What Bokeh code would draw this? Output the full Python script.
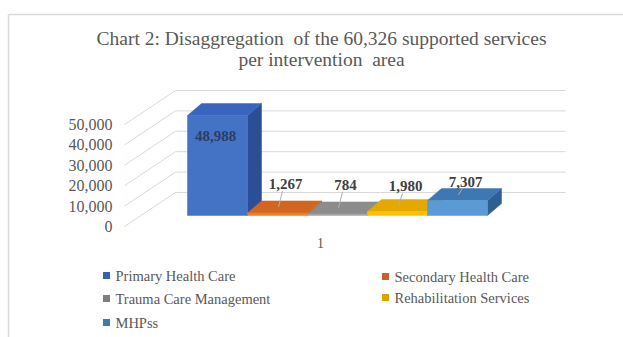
from bokeh.plotting import figure
from bokeh.models import Range1d
from bokeh.core.properties import value
from bokeh.embed import file_html
from bokeh.resources import INLINE

# ---- data ----
title_lines = ["Chart 2: Disaggregation\u00a0 of the 60,326 supported services",
               "per intervention\u00a0 area"]
categories = ["Primary Health Care", "Secondary Health Care",
              "Trauma Care Management", "Rehabilitation Services", "MHPss"]
services = [48988, 1267, 784, 1980, 7307]
value_labels = ["48,988", "1,267", "784", "1,980", "7,307"]
y_ticks = [0, 10000, 20000, 30000, 40000, 50000]
y_tick_labels = ["0", "10,000", "20,000", "30,000", "40,000", "50,000"]
category_label = "1"

# ---- style ----
front_colors = ["#4472C4", "#ED7D31", "#A5A5A5", "#FFC000", "#5B9BD5"]
top_colors = ["#3a64bd", "#d2661f", "#8c8c8c", "#e3a900", "#3f77b3"]
side_colors = ["#2c4e96", "#b0541a", "#747474", "#c18f00", "#2d5e94"]
legend_colors = ["#3560b8", "#c9602a", "#7f7f7f", "#d9a400", "#3f7ab8"]
label_offsets_px = [-20, 17, 17, 13, 7]
FONT = value("Liberation Serif")
TXT = "#595959"

W, H = 623, 337
K = 2.04 / 1000          # px per unit of value
BASE = 215               # pixel row of the bars' front baseline


def vy(py):
    return (BASE - py) / K


def dv(px):
    return px / K


p = figure(width=W, height=H, x_range=Range1d(0, W), y_range=Range1d(vy(H), vy(0)),
           output_backend="svg", toolbar_location=None,
           x_axis_type=None, y_axis_type=None, min_border=0)
p.outline_line_color = None
p.background_fill_color = "white"
p.border_fill_color = "white"

# card border
p.segment(x0=[8, 8], y0=[vy(14), vy(14)], x1=[W, 8], y1=[vy(14), vy(H)],
          line_color="#d9d9d9", line_width=1.5)

# title
for i, t in enumerate(title_lines):
    p.text(x=[321], y=[vy(38 + 21 * i)], text=[t], text_font=FONT, text_font_size="19.5px",
           text_color=TXT, text_align="center", text_baseline="middle")

# gridlines (3D back wall + floor diagonals)
FRONT_OFF = dv(11)
BACK_OFF = dv(23)
p.segment(x0=[175] * len(y_ticks), x1=[565] * len(y_ticks),
          y0=[t + BACK_OFF for t in y_ticks], y1=[t + BACK_OFF for t in y_ticks],
          line_color="#d9d9d9", line_width=1)
p.segment(x0=[124] * len(y_ticks), x1=[175] * len(y_ticks),
          y0=[t - FRONT_OFF for t in y_ticks], y1=[t + BACK_OFF for t in y_ticks],
          line_color="#d9d9d9", line_width=1)
p.text(x=[112] * len(y_ticks), y=[t - FRONT_OFF for t in y_ticks], text=y_tick_labels,
       text_font=FONT, text_font_size="16px", text_color=TXT,
       text_align="right", text_baseline="middle")

# 3D bars
X0, BW, DX, DY = 187, 60, 14, dv(12)
for i, v in enumerate(services):
    x0 = X0 + i * BW
    x1 = x0 + BW
    p.patch(x=[x1, x1, x1 + DX, x1 + DX], y=[0, v, v + DY, DY],
            fill_color=side_colors[i], line_color=side_colors[i], line_width=0.5)
    p.patch(x=[x0, x1, x1 + DX, x0 + DX], y=[v, v, v + DY, v + DY],
            fill_color=top_colors[i], line_color=top_colors[i], line_width=0.5)
    p.quad(left=[x0], right=[x1], bottom=[0], top=[v],
           fill_color=front_colors[i], line_color=front_colors[i], line_width=0.5)

# value labels
for i, v in enumerate(services):
    x0 = X0 + i * BW
    cx = x0 + BW / 2 + DX / 2
    if i == 0:
        ly = v - dv(20)
        p.text(x=[x0 + BW / 2 - 2], y=[ly], text=[value_labels[i]], text_font=FONT,
               text_font_size="15px", text_font_style="bold", text_color="#2e3d63",
               text_align="center", text_baseline="middle")
    else:
        ly = v + DY + dv(label_offsets_px[i])
        p.segment(x0=[cx - 2], y0=[ly - dv(7)], x1=[cx - 6], y1=[v + DY / 2],
                  line_color="#b0b0b0", line_width=1)
        p.text(x=[cx + 1], y=[ly], text=[value_labels[i]], text_font=FONT,
               text_font_size="15px", text_font_style="bold", text_color="#404040",
               text_align="center", text_baseline="middle")

# category label
p.text(x=[320], y=[vy(242)], text=[category_label], text_font=FONT, text_font_size="14px",
       text_color=TXT, text_align="center", text_baseline="middle")

# legend
leg_x = [106, 385, 106, 385, 106]
leg_y = [275, 276, 298, 297, 322]
p.rect(x=leg_x, y=[vy(v) for v in leg_y], width=7, height=7, width_units="screen",
       height_units="screen", fill_color=legend_colors, line_color=None)
p.text(x=[x + 9 for x in leg_x], y=[vy(v) for v in leg_y], text=categories,
       text_font=FONT, text_font_size="14.5px", text_color=TXT,
       text_align="left", text_baseline="middle")

open("out.html", "w").write(file_html(p, INLINE))
